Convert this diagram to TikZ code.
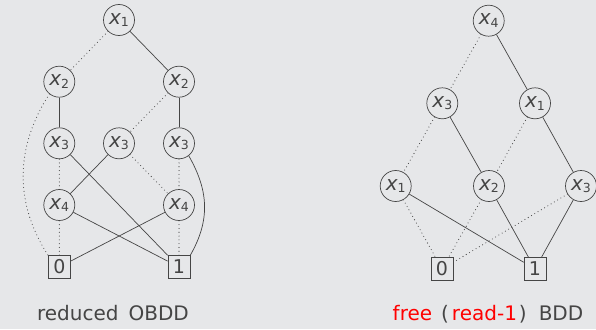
\documentclass[tikz,border=0pt]{standalone}
\usepackage{fontspec}
\setmainfont{DejaVu Sans}
\definecolor{bgc}{HTML}{E6E7E9}
\definecolor{ink}{HTML}{454545}
\definecolor{redc}{HTML}{FF0000}
\newcommand{\xv}[1]{{\itshape x}\raisebox{-2.5pt}{\fontsize{12.5}{12.5}\selectfont #1}}
\begin{document}
\begin{tikzpicture}[x=1pt,y=-1pt,
  vnode/.style={circle,draw=ink,line width=0.7pt,minimum size=31pt,inner sep=0pt,
    text=ink,font=\fontsize{20}{20}\selectfont},
  term/.style={rectangle,draw=ink,line width=0.7pt,minimum width=22pt,minimum height=23pt,
    inner sep=0pt,text=ink,font=\fontsize{19}{19}\selectfont},
  hi/.style={draw=ink,line width=0.7pt},
  lo/.style={draw=ink,line width=1.1pt,line cap=round,dash pattern=on 0pt off 3.8pt},
  captext/.style={text=ink,font=\fontsize{20}{20}\selectfont,anchor=base,inner sep=0pt}]
\fill[bgc] (0,0) rectangle (596,329);
\useasboundingbox (0,0) rectangle (596,329);
% left: reduced OBDD
\node[vnode] (a1) at (119,20) {\xv{1}};
\node[vnode] (a2l) at (59.3,81.7) {\xv{2}};
\node[vnode] (a2r) at (179,81.7) {\xv{2}};
\node[vnode] (a3l) at (59.3,143.3) {\xv{3}};
\node[vnode] (a3m) at (119,143.3) {\xv{3}};
\node[vnode] (a3r) at (179,143.3) {\xv{3}};
\node[vnode] (a4l) at (59.3,205) {\xv{4}};
\node[vnode] (a4r) at (179,205) {\xv{4}};
\node[term] (a0) at (59.3,267) {0};
\node[term] (aone) at (179,267) {1};
\draw[lo] (a1) -- (a2l);
\draw[hi] (a1) -- (a2r);
\draw[hi] (a2l) -- (a3l);
\draw[lo] (a2l.231) .. controls +(-34,53) and +(-34,-53) .. (a0.north west);
\draw[lo] (a2r) -- (a3m);
\draw[hi] (a2r) -- (a3r);
\draw[lo] (a3l) -- (a4l);
\draw[hi] (a3l) -- (aone);
\draw[hi] (a3m) -- (a4l);
\draw[lo] (a3m) -- (a4r);
\draw[lo] (a3r) -- (a4r);
\draw[hi] (a3r.-52) .. controls +(20,35) and +(20,-35) .. (aone.north east);
\draw[lo] (a4l) -- (a0);
\draw[hi] (a4l) -- (aone);
\draw[hi] (a4r) -- (a0);
\draw[lo] (a4r) -- (aone);
% right: free BDD
\node[vnode] (b4) at (488.7,20.7) {\xv{4}};
\node[vnode] (b3a) at (442.3,103.3) {\xv{3}};
\node[vnode] (b1a) at (535,103.3) {\xv{1}};
\node[vnode] (b1b) at (395.7,186) {\xv{1}};
\node[vnode] (b2) at (489,186) {\xv{2}};
\node[vnode] (b3b) at (581,186) {\xv{3}};
\node[term] (b0) at (442,269) {0};
\node[term] (bone) at (535,269) {1};
\draw[lo] (b4) -- (b3a);
\draw[hi] (b4) -- (b1a);
\draw[lo] (b3a) -- (b1b);
\draw[hi] (b3a) -- (b2);
\draw[lo] (b1a) -- (b2);
\draw[hi] (b1a) -- (b3b);
\draw[lo] (b1b) -- (b0);
\draw[hi] (b1b) -- (bone);
\draw[lo] (b2) -- (b0);
\draw[hi] (b2) -- (bone);
\draw[lo] (b3b) -- (b0);
\draw[hi] (b3b) -- (bone);
% captions
\node[captext] (capl) at (113,320) {reduced\hspace{10pt}OBDD};
\node[captext] (capr) at (488,320) {\textcolor{redc}{free}\hspace{9pt}(\hspace{3pt}\textcolor{redc}{read-1}\hspace{2pt})\hspace{12pt}BDD};
\end{tikzpicture}
\end{document}
